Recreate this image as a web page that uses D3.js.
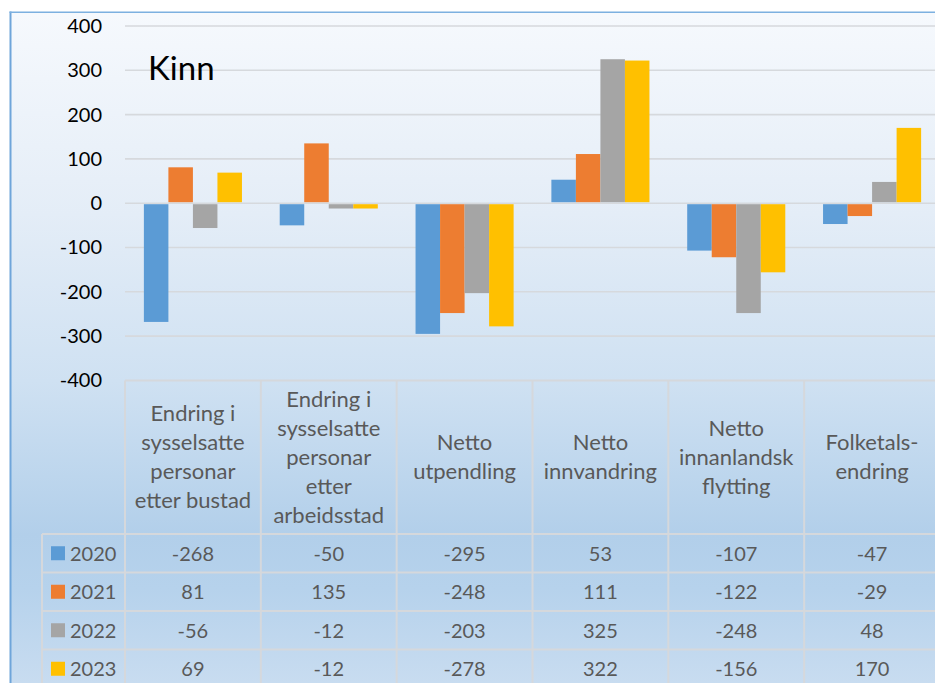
<!DOCTYPE html>
<html>
<head>
<meta charset="utf-8">
<script src="https://cdn.jsdelivr.net/npm/d3@7"></script>
<style>
  html, body { margin: 0; padding: 0; background: #ffffff; }
  svg { display: block; font-family: Lato, "Open Sans", sans-serif; }
</style>
</head>
<body>
<svg id="chart" width="935" height="683"></svg>
<script>
// ---- data ----
const categories = [
  ["Endring i", "sysselsatte", "personar", "etter bustad"],
  ["Endring i", "sysselsatte", "personar", "etter", "arbeidsstad"],
  ["Netto", "utpendling"],
  ["Netto", "innvandring"],
  ["Netto", "innanlandsk", "flytting"],
  ["Folketals-", "endring"]
];
const years = ["2020", "2021", "2022", "2023"];
const values2020 = [-268, -50, -295, 53, -107, -47];
const values2021 = [81, 135, -248, 111, -122, -29];
const values2022 = [-56, -12, -203, 325, -248, 48];
const values2023 = [69, -12, -278, 322, -156, 170];
const seriesValues = [values2020, values2021, values2022, values2023];
const colors = ["#5B9BD5", "#ED7D31", "#A5A5A5", "#FFC000"];
const yTicks = [400, 300, 200, 100, 0, -100, -200, -300, -400];
const title = "Kinn";

// ---- layout ----
const svg = d3.select("#chart");
const W = 935, H = 683;
const plotLeft = 125, plotRight = 940;
const yTop = 26, yBottom = 380.4;
const headerBottom = 534, rowH = 38.5;
const legendLeft = 42;

// background gradient
const defs = svg.append("defs");
const grad = defs.append("linearGradient").attr("id", "bg")
  .attr("gradientUnits", "userSpaceOnUse")
  .attr("x1", 0).attr("y1", 12).attr("x2", 0).attr("y2", 683);
[[0, "#f6f9fd"], [0.3, "#e4edf7"], [0.55, "#cfe1f2"], [0.78, "#b2cfea"], [0.86, "#b6d2ec"], [1, "#c8dcf0"]]
  .forEach(([o, c]) => grad.append("stop").attr("offset", o).attr("stop-color", c));

svg.append("rect").attr("x", 10).attr("y", 12).attr("width", W).attr("height", H)
  .attr("fill", "url(#bg)");
// border
svg.append("line").attr("x1", 10.5).attr("x2", 10.5).attr("y1", 11.5).attr("y2", H)
  .attr("stroke", "#6fa5da").attr("stroke-width", 2);
svg.append("line").attr("x1", 9.5).attr("x2", W).attr("y1", 12.2).attr("y2", 12.2)
  .attr("stroke", "#7cb0e0").attr("stroke-width", 1.4);

// scales
const x = d3.scaleBand().domain(d3.range(categories.length)).range([plotLeft, plotRight]).padding(0);
const xs = d3.scaleBand().domain(years).range([0, x.bandwidth()]).paddingInner(0).paddingOuter(0.77);
const y = d3.scaleLinear().domain([-400, 400]).range([yBottom, yTop]);

// gridlines
svg.append("g").selectAll("line").data(yTicks.filter(t => t !== -400)).join("line")
  .attr("x1", plotLeft).attr("x2", W)
  .attr("y1", d => y(d)).attr("y2", d => y(d))
  .attr("stroke", "#d6d9dd").attr("stroke-width", 1.6);

// y-axis labels
const yAxis = d3.axisLeft(y).tickValues(yTicks).tickSize(0).tickPadding(0)
  .tickFormat(d => String(d));
const ya = svg.append("g").attr("transform", "translate(102,0)").call(yAxis);
ya.select(".domain").remove();
ya.selectAll("text").attr("font-size", 20).attr("fill", "#000").attr("font-family", "Lato");

// bars
const flat = [];
seriesValues.forEach((vals, s) => vals.forEach((v, i) => flat.push({ s, i, v })));
svg.append("g").selectAll("rect").data(flat).join("rect")
  .attr("x", d => x(d.i) + xs(years[d.s]))
  .attr("width", xs.bandwidth())
  .attr("y", d => d.v >= 0 ? y(d.v) : y(0) + 1)
  .attr("height", d => d.v >= 0 ? y(0) - y(d.v) - 1 : y(d.v) - y(0) - 1)
  .attr("fill", d => colors[d.s]);

// title
svg.append("text").attr("x", 148).attr("y", 80).attr("font-size", 33)
  .attr("fill", "#000").text(title);

// ---- data table ----
const tableColor = "#d5d8dc";
const tg = svg.append("g");
// header top line (-400 grid)
tg.append("line").attr("x1", plotLeft).attr("x2", W).attr("y1", y(-400)).attr("y2", y(-400))
  .attr("stroke", tableColor).attr("stroke-width", 2);
// row lines
const rowLines = d3.range(years.length + 1).map(k => headerBottom + k * rowH);
tg.selectAll("line.row").data(rowLines).join("line").attr("class", "row")
  .attr("x1", legendLeft).attr("x2", W)
  .attr("y1", d => d).attr("y2", d => d)
  .attr("stroke", tableColor).attr("stroke-width", 2);
// column lines
const colEdges = d3.range(categories.length + 1).map(k => plotLeft + k * x.step());
tg.selectAll("line.col").data(colEdges).join("line").attr("class", "col")
  .attr("x1", d => d).attr("x2", d => d)
  .attr("y1", y(-400)).attr("y2", H)
  .attr("stroke", tableColor).attr("stroke-width", 2);
tg.append("line").attr("x1", legendLeft).attr("x2", legendLeft)
  .attr("y1", headerBottom).attr("y2", H)
  .attr("stroke", tableColor).attr("stroke-width", 2);

// header labels
const headCenter = (y(-400) + headerBottom) / 2;
const lineH = 29;
categories.forEach((lines, i) => {
  const t = tg.append("text").attr("text-anchor", "middle").attr("font-size", 22)
    .attr("fill", "#595959");
  lines.forEach((ln, j) => {
    t.append("tspan").attr("x", x(i) + x.bandwidth() / 2)
      .attr("y", headCenter + (j - (lines.length - 1) / 2) * lineH + 7.5)
      .text(ln);
  });
});

// rows
years.forEach((yr, s) => {
  const cy = headerBottom + s * rowH + rowH / 2;
  tg.append("rect").attr("x", 51).attr("y", cy - 7).attr("width", 14).attr("height", 14)
    .attr("fill", colors[s]);
  tg.append("text").attr("x", 70).attr("y", cy + 7.5).attr("font-size", 20)
    .attr("fill", "#595959").text(yr);
  seriesValues[s].forEach((v, i) => {
    tg.append("text").attr("x", x(i) + x.bandwidth() / 2).attr("y", cy + 7.5)
      .attr("text-anchor", "middle").attr("font-size", 20).attr("fill", "#595959")
      .text(v);
  });
});
</script>
</body>
</html>
